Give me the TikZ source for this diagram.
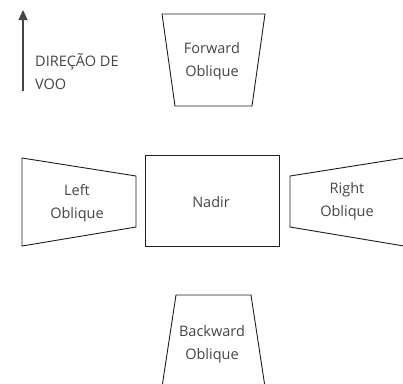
\documentclass[tikz,border=0pt]{standalone}
\usepackage{fontspec}
\setmainfont{Open Sans}
\usetikzlibrary{arrows.meta}
\definecolor{ink}{HTML}{1E1E1E}
\definecolor{txt}{HTML}{444444}
\tikzset{
  frame/.style={draw=ink, line width=0.9pt, line join=miter},
  label/.style={text=txt, font=\fontsize{14.5}{23}\selectfont, align=center, inner sep=0pt},
  flightarrow/.style={draw=txt, line width=1.2pt, -{Triangle[length=10pt,width=9pt]}}
}
\begin{document}
\begin{tikzpicture}[x=1pt, y=-1pt]
  \useasboundingbox (0,0) rectangle (403,383);
  \clip (0,0) rectangle (403,383);

  % flight direction
  \coordinate (tail) at (23,91);
  \coordinate (head) at (23,10);
  \draw[flightarrow] (tail) -- (head);
  \node[label, anchor=west, align=left] (dir) at (35,72) {DIREÇÃO DE\\VOO};

  % forward oblique footprint
  \draw[frame] (162,14) -- (265,14) -- (252,106) -- (175,106) -- cycle;
  \node[label] (fwd) at (212,61) {Forward\\Oblique};

  % nadir footprint
  \draw[frame] (145,155) rectangle (279,246);
  \node[label] (nadir) at (211,202) {Nadir};

  % left oblique footprint
  \draw[frame] (22,158) -- (136,176) -- (136,227) -- (22,246) -- cycle;
  \node[label] (left) at (77,203) {Left\\Oblique};

  % right oblique footprint
  \draw[frame] (404,158) -- (290,176) -- (290,227) -- (404,246);
  \node[label] (right) at (347,201) {Right\\Oblique};

  % backward oblique footprint
  \draw[frame] (162,387) -- (176,295) -- (251,295) -- (265,387);
  \node[label] (back) at (212,344) {Backward\\Oblique};
\end{tikzpicture}
\end{document}
